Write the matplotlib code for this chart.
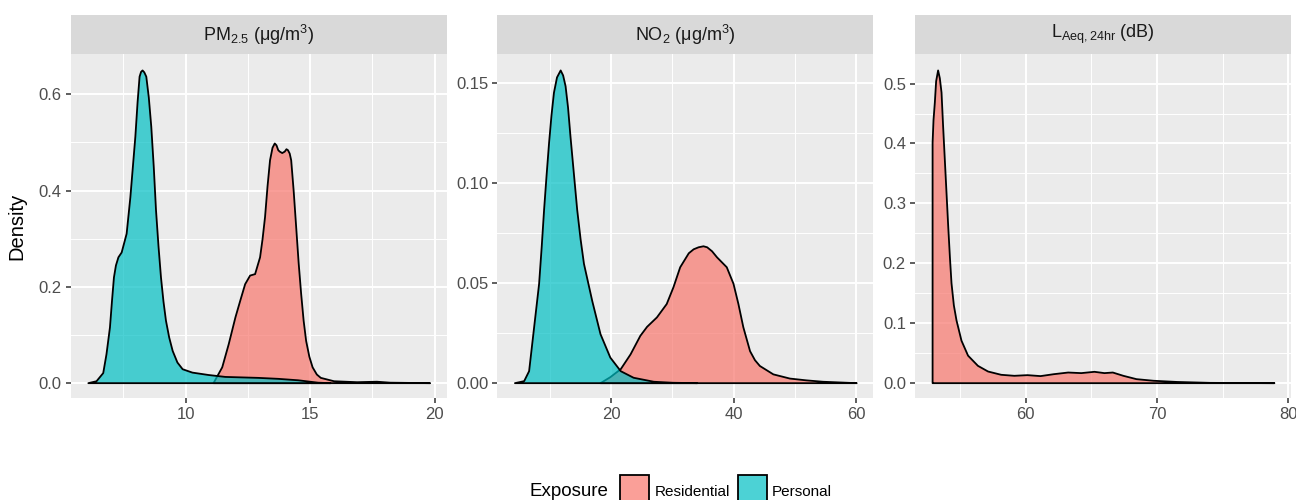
import matplotlib
matplotlib.use("Agg")
import matplotlib.pyplot as plt
from matplotlib.ticker import MultipleLocator, FormatStrFormatter
from matplotlib.patches import Rectangle

plt.rcParams['font.family'] = ['Liberation Sans', 'DejaVu Sans']
plt.rcParams['mathtext.fontset'] = 'custom'
plt.rcParams['mathtext.rm'] = 'Liberation Sans'
plt.rcParams['mathtext.it'] = 'Liberation Sans'
plt.rcParams['mathtext.default'] = 'regular'

# ---- data (density curves) ----
pm_res_x = [11.1, 11.45, 11.71, 11.98, 12.17, 12.37, 12.57, 12.77, 12.97, 13.07, 13.17, 13.27,
            13.37, 13.47, 13.56, 13.63, 13.7, 13.76, 13.86, 13.96, 14.03, 14.09, 14.16, 14.22,
            14.32, 14.42, 14.52, 14.62, 14.72, 14.82, 14.95, 15.08, 15.25, 15.41, 15.94, 16.87,
            17.66, 18.2, 19.0, 19.8]
pm_res_y = [0.0, 0.033, 0.081, 0.137, 0.171, 0.206, 0.224, 0.227, 0.262, 0.30, 0.346, 0.41,
            0.464, 0.49, 0.499, 0.495, 0.485, 0.482, 0.479, 0.482, 0.487, 0.485, 0.478, 0.464,
            0.40, 0.325, 0.25, 0.186, 0.13, 0.088, 0.055, 0.033, 0.018, 0.011, 0.004, 0.002,
            0.003, 0.001, 0.0005, 0.0]
pm_per_x = [6.07, 6.4, 6.67, 6.8, 6.94, 7.02, 7.1, 7.18, 7.28, 7.41, 7.61, 7.76, 7.86, 7.96,
            8.05, 8.13, 8.19, 8.25, 8.32, 8.4, 8.5, 8.6, 8.7, 8.79, 8.89, 8.99, 9.09, 9.19,
            9.32, 9.46, 9.65, 9.86, 10.25, 10.9, 11.57, 12.9, 13.7, 14.5, 15.3, 15.8]
pm_per_y = [0.0, 0.004, 0.021, 0.06, 0.116, 0.17, 0.22, 0.245, 0.262, 0.272, 0.311, 0.387,
            0.45, 0.513, 0.585, 0.638, 0.648, 0.651, 0.647, 0.638, 0.595, 0.534, 0.45, 0.36,
            0.285, 0.22, 0.17, 0.13, 0.095, 0.067, 0.043, 0.029, 0.022, 0.017, 0.013, 0.011,
            0.009, 0.006, 0.001, 0.0]

no2_res_x = [18.2, 19.8, 21.5, 23.1, 24.7, 25.8, 27.4, 29.0, 30.1, 31.2, 32.6, 33.4, 34.2,
             35.0, 35.6, 36.4, 37.2, 38.8, 39.9, 40.7, 41.5, 42.6, 43.4, 44.2, 46.4, 49.1,
             51.8, 54.5, 60.0]
no2_res_y = [0.0, 0.003, 0.007, 0.0144, 0.0237, 0.0282, 0.0329, 0.0396, 0.048, 0.058, 0.065,
             0.067, 0.068, 0.0685, 0.068, 0.066, 0.063, 0.058, 0.0497, 0.0396, 0.028, 0.016,
             0.0115, 0.0086, 0.0044, 0.0023, 0.0014, 0.0007, 0.0]
no2_per_x = [4.23, 5.74, 6.55, 7.37, 8.18, 8.6, 8.99, 9.4, 9.8, 10.2, 10.6, 11.1, 11.7, 12.1,
             12.5, 12.9, 13.3, 13.85, 14.4, 14.95, 15.5, 16.86, 18.2, 19.8, 21.5, 23.6, 26.9,
             30.0, 34.0]
no2_per_y = [0.0, 0.001, 0.006, 0.028, 0.0497, 0.068, 0.0866, 0.104, 0.120, 0.134, 0.1453,
             0.153, 0.1565, 0.154, 0.1486, 0.138, 0.1234, 0.105, 0.0866, 0.072, 0.0597, 0.041,
             0.0245, 0.0128, 0.006, 0.0027, 0.0007, 0.0002, 0.0]

noise_res_x = [52.88, 52.88, 52.95, 53.05, 53.15, 53.3, 53.43, 53.56, 53.68, 53.81, 53.94,
               54.07, 54.2, 54.32, 54.5, 54.7, 55.08, 55.58, 56.33, 57.1, 58.1, 59.1, 60.1,
               61.1, 62.1, 63.2, 64.2, 65.2, 65.96, 66.6, 67.4, 68.4, 69.7, 71.5, 74.0, 78.9]
noise_res_y = [0.0, 0.402, 0.44, 0.469, 0.505, 0.523, 0.51, 0.486, 0.43, 0.374, 0.318,
               0.262, 0.21, 0.167, 0.13, 0.105, 0.071, 0.046, 0.029, 0.0195, 0.014, 0.0123,
               0.0134, 0.0118, 0.015, 0.0178, 0.0168, 0.019, 0.0168, 0.0178, 0.0123, 0.0067,
               0.004, 0.002, 0.0005, 0.0]

titles = [r'PM$_{2.5}$ ($\mu$g/m$^{3}$)', r'NO$_{2}$ ($\mu$g/m$^{3}$)', r'L$_{Aeq,24hr}$ (dB)']
groups = ['Residential', 'Personal']
fill_cols = {'Residential': (0.973, 0.463, 0.427, 0.7), 'Personal': (0.0, 0.749, 0.769, 0.7)}

panels = [
    {'Residential': (pm_res_x, pm_res_y), 'Personal': (pm_per_x, pm_per_y)},
    {'Residential': (no2_res_x, no2_res_y), 'Personal': (no2_per_x, no2_per_y)},
    {'Residential': (noise_res_x, noise_res_y)},
]
xmaj = [5, 20, 10]
ymaj = [0.2, 0.05, 0.1]
yfmt = ['%.1f', '%.2f', '%.1f']

W, H = 1296, 500
fig = plt.figure(figsize=(W / 100, H / 100), dpi=100)
lefts = [70.7, 497.3, 915.0]
pw = 376.0
ptop, pbot, stop = 54.3, 398.3, 14.7

for i, data in enumerate(panels):
    ax = fig.add_axes([lefts[i] / W, 1 - pbot / H, pw / W, (pbot - ptop) / H])
    ax.set_facecolor('#EBEBEB')
    allx = [v for g in data for v in data[g][0]]
    ally = [v for g in data for v in data[g][1]]
    x0, x1 = min(allx), max(allx)
    ymax = max(ally)
    for g in groups:
        if g not in data:
            continue
        xs, ys = data[g]
        ax.fill_between(xs, ys, 0, facecolor=fill_cols[g], edgecolor='black', linewidth=1.3,
                        joinstyle='round', zorder=3)
    ax.set_xlim(x0 - 0.05 * (x1 - x0), x1 + 0.05 * (x1 - x0))
    ax.set_ylim(-0.05 * ymax, 1.05 * ymax)
    ax.xaxis.set_major_locator(MultipleLocator(xmaj[i]))
    ax.xaxis.set_minor_locator(MultipleLocator(xmaj[i] / 2))
    ax.yaxis.set_major_locator(MultipleLocator(ymaj[i]))
    ax.yaxis.set_minor_locator(MultipleLocator(ymaj[i] / 2))
    ax.yaxis.set_major_formatter(FormatStrFormatter(yfmt[i]))
    ax.grid(which='major', color='white', linewidth=1.4, zorder=0)
    ax.grid(which='minor', color='white', linewidth=0.7, zorder=0)
    ax.set_axisbelow(True)
    for s in ax.spines.values():
        s.set_visible(False)
    ax.tick_params(which='major', length=3.5, width=1.1, color='#333333', labelcolor='#4D4D4D',
                   labelsize=12, pad=3)
    ax.tick_params(which='minor', length=0)

    sax = fig.add_axes([lefts[i] / W, 1 - ptop / H, pw / W, (ptop - stop) / H])
    sax.set_facecolor('#D9D9D9')
    sax.set_xticks([])
    sax.set_yticks([])
    for s in sax.spines.values():
        s.set_visible(False)
    sax.text(0.5, 0.5, titles[i], ha='center', va='center', fontsize=13, color='#1A1A1A',
             transform=sax.transAxes)

fig.text(17 / W, 1 - 226.3 / H, 'Density', rotation=90, ha='center', va='center', fontsize=14.5)

# legend along the bottom
fig.text(569 / W, 1 - 492 / H, 'Exposure', ha='center', va='center', fontsize=13.5)
keys = [(620, 'Residential', 655), (738, 'Personal', 772)]
for kx, lab, tx in keys:
    fig.patches.append(Rectangle((kx / W, 1 - 505 / H), 29 / W, 30 / H, transform=fig.transFigure,
                                 facecolor=fill_cols[lab], edgecolor='black', linewidth=1.3))
    fig.text(tx / W, 1 - 492 / H, lab, ha='left', va='center', fontsize=11)

fig.savefig('out.png', dpi=100)
